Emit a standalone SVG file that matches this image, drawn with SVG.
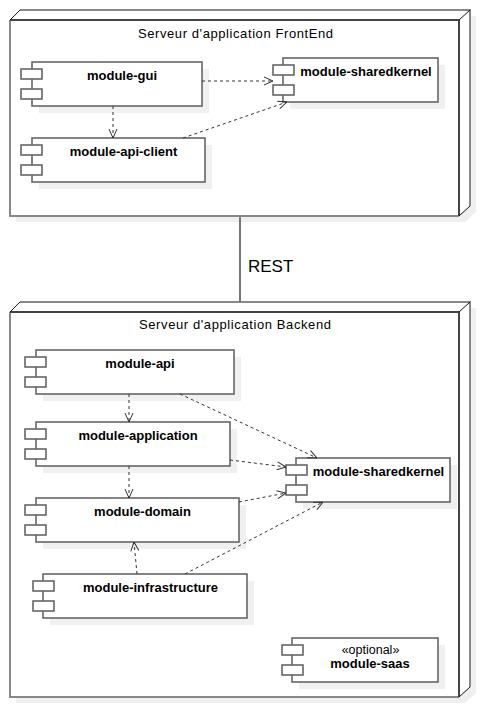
<svg xmlns="http://www.w3.org/2000/svg" width="480" height="708" viewBox="0 0 480 708">
<style>
.bg{fill:#fff}
.nshadow{fill:#efefef}
.nface{fill:#fff;stroke:none}
.edge-l{fill:none;stroke:#888;stroke-width:2}
.edge-d{fill:none;stroke:#444;stroke-width:2}
.diag{fill:none;stroke:#111;stroke-width:1}
.title{font-family:"Liberation Sans",Arial,sans-serif;font-size:13px;text-anchor:middle;fill:#000}
.cshadow{fill:#f0f0f0}
.comp{fill:#fff;stroke:#666;stroke-width:1.6}
.name{font-family:"Liberation Sans",Arial,sans-serif;font-weight:bold;font-size:13px;text-anchor:middle;fill:#000}
.stereo{font-family:"Liberation Sans",Arial,sans-serif;font-size:12.5px;text-anchor:middle;fill:#000}
.dep{fill:none;stroke:#333;stroke-width:1;stroke-dasharray:3,3;marker-end:url(#open)}
.link{fill:none;stroke:#777;stroke-width:2}
.lbl{font-family:"Liberation Sans",Arial,sans-serif;font-size:17px;fill:#000}
</style>
<defs>
<marker id="open" viewBox="0 0 10 10" refX="10" refY="5" markerWidth="10" markerHeight="10" markerUnits="userSpaceOnUse" orient="auto">
<path d="M1,1 L10,5 L1,9" fill="none" stroke="#333" stroke-width="1"/>
</marker>
</defs>
<rect class="bg" x="0" y="0" width="480" height="708"/>

<g id="node-frontend">
<polygon class="nshadow" points="16,26 26,16 476,16 476,212 465,222 16,222"/>
<polygon class="nface" points="10,20 20,10 470,10 470,206 459,216 10,216"/>
<path class="edge-l" d="M20,10 H470 V206"/>
<path class="edge-l" d="M10,20 V216 H459"/>
<path class="edge-d" d="M10,20 H459 V216"/>
<path class="diag" d="M10,20 L20,10 M459,20 L470,10 M459,216 L470,206"/>
<text class="title" x="235.5" y="38" textLength="195" lengthAdjust="spacing">Serveur d'application FrontEnd</text>
</g>

<g id="node-backend">
<polygon class="nshadow" points="16,318 26,308 476,308 476,693 465,703 16,703"/>
<polygon class="nface" points="10,312 20,302 470,302 470,687 459,697 10,697"/>
<path class="edge-l" d="M20,302 H470 V687"/>
<path class="edge-l" d="M10,312 V697 H459"/>
<path class="edge-d" d="M10,312 H459 V697"/>
<path class="diag" d="M10,312 L20,302 M459,312 L470,302 M459,697 L470,687"/>
<text class="title" x="235" y="329" textLength="192" lengthAdjust="spacing">Serveur d'application Backend</text>
</g>

<g id="fe-module-gui">
<rect class="cshadow" x="39" y="69" width="170" height="44"/>
<rect class="comp" x="32" y="62" width="170" height="44"/>
<rect class="comp" x="21" y="69" width="21" height="10"/>
<rect class="comp" x="21" y="89" width="21" height="10"/>
<text class="name" x="122" y="80">module-gui</text>
</g>

<g id="fe-module-api-client">
<rect class="cshadow" x="39" y="145" width="173" height="44"/>
<rect class="comp" x="32" y="138" width="173" height="44"/>
<rect class="comp" x="21" y="145" width="21" height="10"/>
<rect class="comp" x="21" y="165" width="21" height="10"/>
<text class="name" x="123.5" y="156">module-api-client</text>
</g>

<g id="fe-module-sharedkernel">
<rect class="cshadow" x="290" y="65" width="155" height="44"/>
<rect class="comp" x="283" y="58" width="155" height="44"/>
<rect class="comp" x="273" y="65" width="21" height="10"/>
<rect class="comp" x="273" y="85" width="21" height="10"/>
<text class="name" x="366" y="76">module-sharedkernel</text>
</g>

<g id="be-module-api">
<rect class="cshadow" x="43" y="357" width="198" height="44"/>
<rect class="comp" x="36" y="350" width="198" height="44"/>
<rect class="comp" x="25" y="357" width="21" height="10"/>
<rect class="comp" x="25" y="377" width="21" height="10"/>
<text class="name" x="140" y="368">module-api</text>
</g>

<g id="be-module-application">
<rect class="cshadow" x="43" y="429" width="194" height="44"/>
<rect class="comp" x="36" y="422" width="194" height="44"/>
<rect class="comp" x="25" y="429" width="21" height="10"/>
<rect class="comp" x="25" y="449" width="21" height="10"/>
<text class="name" x="138" y="440">module-application</text>
</g>

<g id="be-module-domain">
<rect class="cshadow" x="43" y="505" width="203" height="44"/>
<rect class="comp" x="36" y="498" width="203" height="44"/>
<rect class="comp" x="25" y="505" width="21" height="10"/>
<rect class="comp" x="25" y="525" width="21" height="10"/>
<text class="name" x="142.5" y="516">module-domain</text>
</g>

<g id="be-module-infrastructure">
<rect class="cshadow" x="50" y="581" width="204" height="44"/>
<rect class="comp" x="43" y="574" width="204" height="44"/>
<rect class="comp" x="33" y="581" width="21" height="10"/>
<rect class="comp" x="33" y="601" width="21" height="10"/>
<text class="name" x="150.5" y="592">module-infrastructure</text>
</g>

<g id="be-module-sharedkernel">
<rect class="cshadow" x="303" y="465" width="154" height="44"/>
<rect class="comp" x="296" y="458" width="154" height="44"/>
<rect class="comp" x="286" y="465" width="21" height="10"/>
<rect class="comp" x="286" y="485" width="21" height="10"/>
<text class="name" x="378.5" y="476">module-sharedkernel</text>
</g>

<g id="be-module-saas">
<rect class="cshadow" x="299" y="645" width="146" height="44"/>
<rect class="comp" x="292" y="638" width="146" height="44"/>
<rect class="comp" x="282" y="645" width="21" height="10"/>
<rect class="comp" x="282" y="665" width="21" height="10"/>
<text class="stereo" x="370.5" y="654">«optional»</text>
<text class="name" x="370" y="668">module-saas</text>
</g>

<g id="connectors">
<path class="link" d="M240,217 V302"/>
<text class="lbl" x="248" y="272">REST</text>
<path class="dep" d="M113,106 V138"/>
<path class="dep" d="M202,81 H273"/>
<path class="dep" d="M183,138 L287,102"/>
<path class="dep" d="M129,394 V422"/>
<path class="dep" d="M129,466 V498"/>
<path class="dep" d="M137,574 L134,542"/>
<path class="dep" d="M180,394 L317,458"/>
<path class="dep" d="M230,460 L286,467"/>
<path class="dep" d="M239,502 L286,493"/>
<path class="dep" d="M185,574 L323,502"/>
</g>
</svg>
